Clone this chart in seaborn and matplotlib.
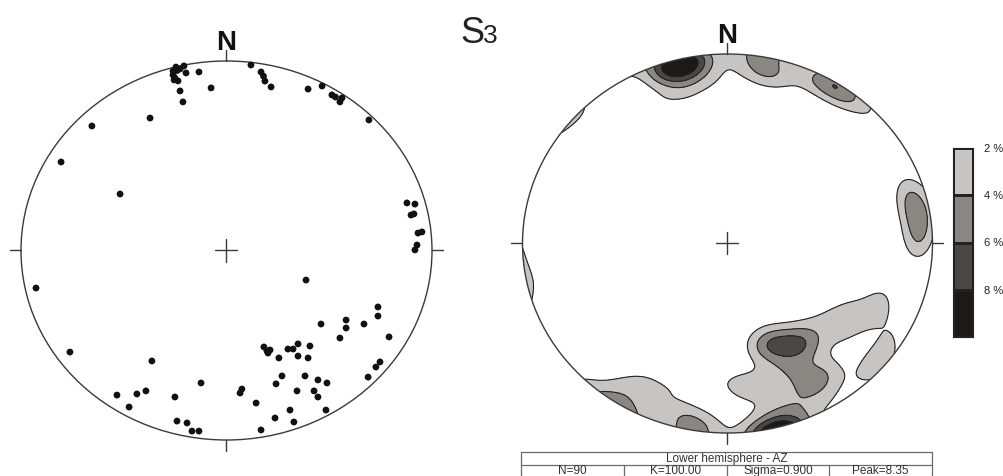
import numpy as np
import pandas as pd
import matplotlib.pyplot as plt
import seaborn as sns
from matplotlib.patches import Circle
from matplotlib.colors import ListedColormap

# poles in equal-area projection (lower hemisphere), primitive circle = radius 1
east = [-0.207, -0.246, -0.226, -0.260, -0.197, -0.260, -0.251, -0.255, -0.236, -0.240,
        -0.226, -0.212, -0.134, -0.075,
        0.119, 0.168, 0.187, 0.217, 0.397, 0.465, 0.513, 0.552, 0.562, 0.693, 0.180, 0.530,
        -0.372, -0.655, -0.805, -0.518, -0.927, -0.762,
        0.878, 0.917, 0.898, 0.912, 0.932, 0.951, 0.927, 0.917, 0.387,
        -0.363, -0.533, -0.474, -0.436, -0.392, -0.251, -0.124, -0.241, -0.192, -0.168, -0.134,
        0.066, 0.075, 0.144, 0.168, 0.236, 0.309, 0.328,
        0.182, 0.197, 0.212, 0.202, 0.255, 0.270, 0.241, 0.299, 0.324, 0.348, 0.348, 0.397, 0.406,
        0.382, 0.343, 0.445, 0.426, 0.445, 0.489, 0.484, 0.460, 0.552, 0.582, 0.582, 0.669, 0.737,
        0.737, 0.791, 0.689, 0.727, 0.747]
north = [0.974, 0.968, 0.958, 0.947, 0.937, 0.926, 0.910, 0.900, 0.895, 0.950,
         0.842, 0.784, 0.942, 0.858,
         0.979, 0.942, 0.894, 0.863, 0.852, 0.868, 0.821, 0.784, 0.805, 0.689, 0.920, 0.810,
         0.699, 0.657, 0.467, 0.298, -0.198, -0.536,
         0.251, 0.245, 0.187, 0.193, 0.092, 0.098, 0.029, 0.003, -0.156,
         -0.583, -0.763, -0.826, -0.757, -0.741, -0.773, -0.699, -0.900, -0.910, -0.953, -0.953,
         -0.752, -0.731, -0.805, -0.947, -0.884, -0.842, -0.905,
         -0.509, -0.530, -0.525, -0.541, -0.567, -0.662, -0.704, -0.520, -0.520, -0.493, -0.557, -0.567, -0.504,
         -0.662, -0.741, -0.683, -0.741, -0.773, -0.699, -0.842, -0.388, -0.462, -0.367, -0.409, -0.388, -0.298,
         -0.346, -0.456, -0.668, -0.615, -0.588]

levels = [2, 4, 6, 8]
level_labels = ['2 %', '4 %', '6 %', '8 %']
fill_colors = ['#c7c4c1', '#8a8682', '#4b4744', '#1c1a18']
table_title = 'Lower hemisphere - AZ'
table_cells = ['N=90', 'K=100.00', 'Sigma=0.900', 'Peak=8.35']
kappa = 100.0

poles = pd.DataFrame({'east': east, 'north': north})

sns.set_style('white')
plt.rcParams['font.family'] = ['Liberation Sans', 'DejaVu Sans']

W, H = 1004, 476
fig = plt.figure(figsize=(W / 100, H / 100), dpi=100)


def px_axes(cx, cy, rx, ry, lim=1.1):
    w, h = 2 * lim * rx, 2 * lim * ry
    ax = fig.add_axes([(cx - w / 2) / W, (H - cy - h / 2) / H, w / W, h / H])
    ax.set_xlim(-lim, lim)
    ax.set_ylim(-lim, lim)
    ax.axis('off')
    return ax


def frame(ax, rx, ry):
    ax.add_patch(Circle((0, 0), 1, fill=False, ec='#3a3a3a', lw=1.0, zorder=5))
    tx, ty = 11 / rx, 11 / ry
    kw = dict(color='#3a3a3a', lw=1.0, zorder=5)
    ax.plot([1, 1 + tx], [0, 0], **kw)
    ax.plot([-1, -1 - tx], [0, 0], **kw)
    ax.plot([0, 0], [1, 1 + ty], **kw)
    ax.plot([0, 0], [-1, -1 - ty], **kw)
    ax.plot([-tx, tx], [0, 0], **kw)
    ax.plot([0, 0], [-ty, ty], **kw)
    ax.text(0, 1.058, 'N', ha='center', va='baseline', fontsize=20, fontweight='bold', color='#111')


def to_vectors(x, y):
    # inverse Schmidt (equal-area) projection, lower hemisphere
    r = np.clip(np.hypot(x, y), 0, 1)
    theta = 2 * np.arcsin(r / np.sqrt(2))
    az = np.arctan2(x, y)
    return np.stack([np.sin(theta) * np.sin(az), np.sin(theta) * np.cos(az), -np.cos(theta)], axis=-1)


# left: pole plot
ax1 = px_axes(226.5, 250.5, 205.5, 189.5)
frame(ax1, 205.5, 189.5)
sns.scatterplot(data=poles, x='east', y='north', ax=ax1, s=24, color='#111111',
                edgecolor='none', legend=False, zorder=6)
ax1.set_xlim(-1.1, 1.1)
ax1.set_ylim(-1.1, 1.1)
ax1.axis('off')

# right: density contours (Fisher kernel, percent per 1% area)
ax2 = px_axes(727.5, 243.5, 205, 189.5)
g = np.linspace(-1.02, 1.02, 301)
gx, gy = np.meshgrid(g, g)
G = to_vectors(gx, gy)
P = to_vectors(poles['east'].values, poles['north'].values)
dots = np.abs(G @ P.T)
dens = kappa / len(poles) * np.exp(kappa * (dots - 1)).sum(axis=-1)

clip = Circle((0, 0), 1, transform=ax2.transData)
cf = ax2.contourf(gx, gy, dens, levels=levels + [1000], colors=fill_colors)
cl = ax2.contour(gx, gy, dens, levels=levels, colors='#222222', linewidths=0.8)
cf.set_clip_path(clip)
cl.set_clip_path(clip)
frame(ax2, 205, 189.5)

# colour scale
axc = fig.add_axes([953 / W, (H - 337) / H, 20 / W, 189 / H])
sns.heatmap(np.arange(len(levels)).reshape(-1, 1), cmap=ListedColormap(fill_colors), cbar=False,
            linewidths=0.8, linecolor='#222222', ax=axc)
axc.set_xticks([])
axc.set_yticks(np.arange(len(levels)))
axc.set_yticklabels(level_labels, rotation=0, fontsize=8, color='#222222')
axc.yaxis.tick_right()
axc.tick_params(axis='y', length=0, pad=8)
for s in axc.spines.values():
    s.set_visible(True)
    s.set_color('#222222')
    s.set_linewidth(0.8)

# info table
axt = fig.add_axes([521 / W, (H - 477) / H, 411 / W, 25 / H])
axt.set_xlim(0, 4)
axt.set_ylim(0, 2)
axt.axis('off')
lk = dict(color='#6a6a6a', lw=0.9, clip_on=False)
for yv in [0, 1, 2]:
    axt.plot([0, 4], [yv, yv], **lk)
for xv in [0, 4]:
    axt.plot([xv, xv], [0, 2], **lk)
for xv in [1, 2, 3]:
    axt.plot([xv, xv], [0, 1], **lk)
axt.text(2, 1.45, table_title, ha='center', va='center', fontsize=8.5, color='#333333')
for i, txt in enumerate(table_cells):
    axt.text(i + 0.5, 0.45, txt, ha='center', va='center', fontsize=8.5, color='#333333')

fig.text(460 / W, (H - 43) / H, 'S', fontsize=26, color='#222222', va='baseline', ha='left')
fig.text(483 / W, (H - 43) / H, '3', fontsize=19, color='#222222', va='baseline', ha='left')

fig.savefig('out.png', dpi=100, facecolor='white')
